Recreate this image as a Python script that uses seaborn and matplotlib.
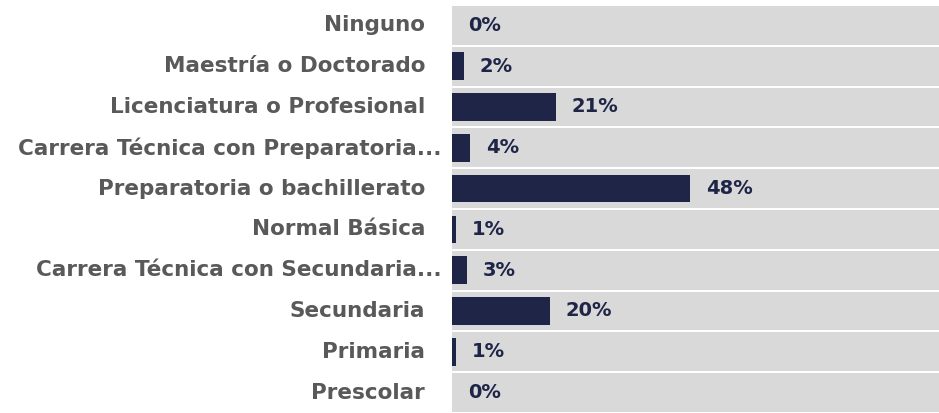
import matplotlib
matplotlib.use("Agg")
import matplotlib.pyplot as plt
import matplotlib.transforms as mtransforms
import seaborn as sns

categories = [
    "Ninguno",
    "Maestría o Doctorado",
    "Licenciatura o Profesional",
    "Carrera Técnica con Preparatoria...",
    "Preparatoria o bachillerato",
    "Normal Básica",
    "Carrera Técnica con Secundaria...",
    "Secundaria",
    "Primaria",
    "Prescolar",
]
values = [0.0, 2.4, 21.0, 3.6, 48.1, 0.8, 3.0, 19.8, 0.8, 0.0]

x_max = 98.4
bar_color = "#1f2547"
band_color = "#d9d9d9"
label_color = "#595959"

sns.set_style("white")
plt.rcParams["font.family"] = ["DejaVu Sans"]

fig = plt.figure(figsize=(9.39, 4.13), dpi=100)
ax = fig.add_axes([452 / 939, 0, 1 - 452 / 939, 1 - 5 / 413])

# grey row bands behind the bars
sns.barplot(x=[x_max] * len(categories), y=categories, orient="h",
            color=band_color, width=0.95, ax=ax, saturation=1, linewidth=0)
sns.barplot(x=values, y=categories, orient="h",
            color=bar_color, width=0.68, ax=ax, saturation=1, linewidth=0)

ax.set_xlim(0, x_max)
ax.set_ylim(len(categories) - 0.5, -0.5)
ax.set_xlabel("")
ax.set_ylabel("")
ax.set_xticks([])
ax.set_yticks([])
for s in ax.spines.values():
    s.set_visible(False)

# value labels just right of each bar
val_off = mtransforms.offset_copy(ax.transData, fig=fig, x=16, y=0, units="dots")
for i, v in enumerate(values):
    ax.text(v, i, f"{v:.0f}%", transform=val_off, ha="left", va="center",
            fontsize=14, fontweight="bold", color=bar_color)

# category labels, truncated ones sit closer to the axis
for i, c in enumerate(categories):
    gap = 10 if c.endswith("...") else 27
    off = mtransforms.offset_copy(ax.get_yaxis_transform(), fig=fig, x=-gap, y=0, units="dots")
    ax.text(0, i, c, transform=off, ha="right", va="center",
            fontsize=15.5, fontweight="bold", color=label_color)

fig.savefig("out.png", dpi=100)
